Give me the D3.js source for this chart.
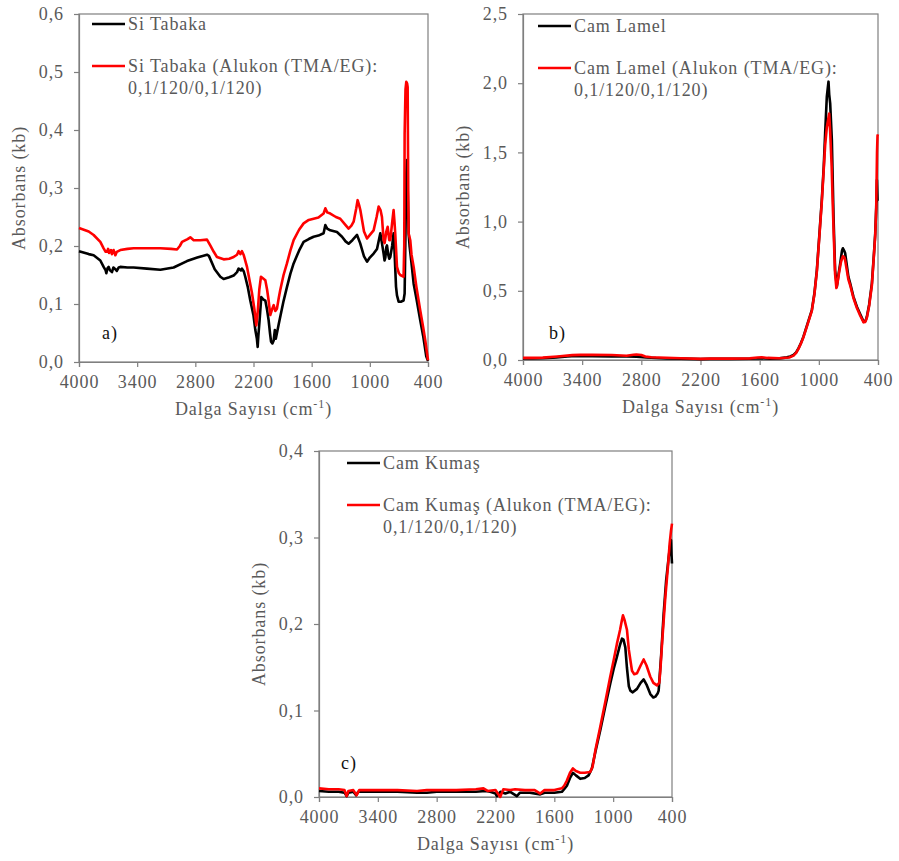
<!DOCTYPE html>
<html>
<head>
<meta charset="utf-8">
<script src="https://cdn.jsdelivr.net/npm/d3@7"></script>
<style>
  html, body { margin: 0; padding: 0; background: #fff; }
  svg { display: block; }
  svg text { font-family: "Liberation Serif", "Tinos", "Times New Roman", "DejaVu Serif", "Noto Serif", serif; letter-spacing: 0.9px; }
</style>
</head>
<body>
<svg id="chart" width="899" height="861"></svg>
<script>
// ---------- shared axis ticks ----------
const waveTicks = [4000, 3400, 2800, 2200, 1600, 1000, 400];

// ---------- a) Si wafer ----------
const siBareWave = [4000,3900,3849,3780,3746,3725,3718,3705,3694,3680,3660,3645,3625,3610,3590,3574,3500,3437,3300,3161,3024,2886,2780,2680,2660,2600,2542,2508,2450,2405,2370,2354,2330,2319,2300,2285,2260,2233,2200,2181,2165,2157,2150,2137,2120,2100,2078,2060,2044,2030,2019,2005,1992,1980,1970,1958,1940,1924,1890,1855,1820,1786,1730,1683,1630,1580,1530,1477,1459,1440,1408,1339,1287,1250,1219,1180,1132,1100,1060,1029,1000,961,926,892,875,858,848,840,830,823,810,800,789,770,755,745,730,720,703,680,652,641,630,624,617,610,600,590,570,548,520,480,450,418,400];
const siBareAbs = [0.191,0.186,0.184,0.175,0.164,0.158,0.153,0.162,0.164,0.158,0.155,0.163,0.160,0.157,0.163,0.164,0.163,0.163,0.161,0.159,0.163,0.174,0.180,0.185,0.183,0.160,0.147,0.143,0.146,0.149,0.155,0.161,0.158,0.161,0.156,0.147,0.130,0.106,0.080,0.055,0.040,0.026,0.045,0.072,0.112,0.108,0.106,0.090,0.072,0.050,0.035,0.032,0.037,0.055,0.040,0.050,0.065,0.078,0.105,0.129,0.152,0.170,0.192,0.207,0.212,0.216,0.218,0.222,0.236,0.230,0.227,0.224,0.216,0.208,0.204,0.210,0.219,0.205,0.182,0.173,0.180,0.187,0.195,0.222,0.205,0.187,0.175,0.180,0.198,0.201,0.185,0.178,0.181,0.200,0.222,0.190,0.130,0.115,0.104,0.104,0.106,0.118,0.250,0.325,0.348,0.300,0.222,0.200,0.170,0.135,0.110,0.072,0.045,0.010,0.002];

const siCoatedWave = [4000,3900,3849,3780,3746,3725,3711,3700,3690,3670,3660,3643,3625,3610,3574,3500,3437,3300,3161,3050,2989,2960,2937,2880,2852,2817,2750,2680,2646,2610,2577,2508,2450,2405,2370,2354,2335,2319,2300,2267,2240,2215,2190,2171,2160,2155,2140,2123,2100,2078,2060,2044,2027,2010,1992,1975,1958,1940,1924,1890,1855,1820,1786,1730,1683,1630,1580,1530,1477,1459,1440,1408,1350,1305,1250,1219,1190,1167,1140,1126,1110,1098,1060,1029,995,961,930,909,890,875,858,848,840,830,816,800,789,770,755,745,738,720,700,686,665,652,645,641,632,624,615,610,604,600,583,570,548,520,480,450,428,410,400];
const siCoatedAbs = [0.231,0.225,0.219,0.207,0.196,0.190,0.190,0.195,0.188,0.193,0.186,0.193,0.184,0.190,0.193,0.195,0.196,0.196,0.196,0.195,0.194,0.200,0.207,0.212,0.215,0.210,0.210,0.211,0.201,0.190,0.181,0.177,0.178,0.181,0.185,0.191,0.186,0.191,0.184,0.164,0.140,0.118,0.090,0.063,0.080,0.090,0.125,0.147,0.144,0.141,0.125,0.106,0.081,0.090,0.098,0.088,0.092,0.110,0.124,0.150,0.170,0.192,0.210,0.228,0.239,0.245,0.247,0.249,0.256,0.265,0.258,0.256,0.250,0.247,0.236,0.230,0.235,0.242,0.265,0.279,0.270,0.262,0.225,0.213,0.220,0.227,0.250,0.268,0.262,0.250,0.210,0.205,0.213,0.225,0.233,0.210,0.210,0.240,0.262,0.240,0.222,0.164,0.153,0.150,0.148,0.147,0.200,0.394,0.470,0.483,0.480,0.474,0.300,0.222,0.210,0.185,0.164,0.130,0.089,0.060,0.037,0.015,0.003];

// ---------- b) glass cover slip ----------
const lamelBareWave = [4000,3900,3800,3700,3661,3550,3458,3300,3100,2950,2849,2750,2650,2544,2400,2200,2100,1900,1700,1580,1500,1400,1325,1290,1257,1230,1207,1180,1156,1120,1071,1045,1020,995,970,950,936,919,910,902,895,885,868,851,835,817,800,783,765,756,740,733,700,682,650,614,580,546,525,513,490,462,440,428,418,411,405,400];
const lamelBareAbs = [0.012,0.012,0.013,0.017,0.019,0.026,0.029,0.028,0.026,0.025,0.024,0.018,0.014,0.012,0.010,0.006,0.008,0.008,0.009,0.013,0.010,0.012,0.019,0.025,0.036,0.055,0.084,0.125,0.169,0.250,0.361,0.480,0.650,0.900,1.156,1.400,1.638,1.903,1.960,2.011,1.920,1.855,1.590,1.036,0.650,0.530,0.620,0.700,0.790,0.807,0.785,0.771,0.600,0.554,0.460,0.385,0.330,0.277,0.285,0.313,0.400,0.554,0.780,0.915,1.100,1.300,1.150,1.150];

const lamelCoatedWave = [4000,3900,3800,3650,3500,3420,3300,3100,2950,2880,2850,2800,2760,2700,2550,2400,2200,2100,1900,1700,1620,1580,1520,1400,1300,1257,1230,1207,1180,1156,1120,1071,1045,1020,995,970,950,936,919,905,895,885,870,860,851,835,822,810,795,775,756,740,733,700,682,650,614,580,546,530,513,490,462,440,428,418,410,405,400];
const lamelCoatedAbs = [0.015,0.015,0.017,0.025,0.035,0.037,0.037,0.036,0.031,0.038,0.040,0.036,0.025,0.020,0.016,0.013,0.008,0.010,0.010,0.012,0.018,0.020,0.015,0.013,0.018,0.032,0.052,0.080,0.122,0.165,0.245,0.355,0.475,0.640,0.890,1.140,1.380,1.550,1.680,1.740,1.780,1.650,1.400,1.150,0.950,0.620,0.520,0.560,0.630,0.710,0.750,0.740,0.720,0.580,0.540,0.450,0.375,0.320,0.272,0.275,0.305,0.390,0.540,0.770,0.900,1.100,1.500,1.620,1.630];

// ---------- c) glass fabric ----------
const kumasBareWave = [4000,3900,3800,3740,3718,3700,3650,3622,3600,3400,3200,3000,2900,2800,2600,2400,2300,2254,2200,2186,2150,2100,2050,1982,1950,1850,1744,1700,1600,1523,1500,1472,1440,1411,1380,1336,1290,1251,1217,1180,1132,1080,1030,995,962,930,910,895,876,860,840,825,800,757,720,689,660,621,590,570,545,536,510,485,460,434,420,410,405,400];
const kumasBareAbs = [0.007,0.006,0.006,0.005,0.001,0.005,0.006,0.002,0.006,0.006,0.006,0.005,0.005,0.006,0.006,0.006,0.007,0.006,0.004,0.001,0.006,0.004,0.006,0.001,0.005,0.005,0.003,0.005,0.005,0.006,0.009,0.013,0.022,0.028,0.025,0.021,0.022,0.025,0.033,0.053,0.077,0.105,0.131,0.148,0.162,0.176,0.183,0.182,0.173,0.150,0.128,0.123,0.121,0.125,0.132,0.136,0.130,0.119,0.115,0.116,0.120,0.123,0.165,0.212,0.250,0.277,0.290,0.297,0.280,0.270];

const kumasCoatedWave = [4000,3900,3800,3740,3718,3700,3650,3616,3590,3400,3200,3000,2900,2800,2600,2400,2323,2280,2200,2152,2120,2050,2000,1900,1800,1744,1700,1600,1523,1500,1472,1440,1411,1380,1336,1290,1234,1210,1180,1132,1080,1030,995,962,930,910,900,885,859,840,808,785,757,720,689,660,621,590,553,530,519,500,468,440,424,410,400];
const kumasCoatedAbs = [0.010,0.009,0.009,0.008,0.001,0.007,0.008,0.002,0.008,0.008,0.008,0.007,0.008,0.008,0.008,0.009,0.010,0.007,0.008,0.000,0.009,0.008,0.009,0.008,0.008,0.004,0.008,0.008,0.010,0.013,0.019,0.028,0.033,0.030,0.028,0.028,0.029,0.035,0.055,0.081,0.110,0.139,0.158,0.177,0.193,0.205,0.210,0.205,0.193,0.170,0.146,0.142,0.143,0.152,0.159,0.152,0.139,0.132,0.129,0.132,0.146,0.180,0.231,0.268,0.293,0.308,0.316];

// ---------- panel definitions ----------
const panels = [
  {
    left: 79, right: 428, top: 14, bottom: 362,
    yMax: 0.6, yStep: 0.1, tag: "a)", tagX: 102, tagY: 339,
    legendX: 92, legendY: 24,
    names: ["Si Tabaka", "Si Tabaka (Alukon (TMA/EG):"],
    series: [
      { wave: siBareWave, abs: siBareAbs, color: "#000000" },
      { wave: siCoatedWave, abs: siCoatedAbs, color: "#ff0000" }
    ]
  },
  {
    left: 523, right: 878, top: 14, bottom: 360,
    yMax: 2.5, yStep: 0.5, tag: "b)", tagX: 549, tagY: 339,
    legendX: 538, legendY: 26,
    names: ["Cam Lamel", "Cam Lamel (Alukon (TMA/EG):"],
    series: [
      { wave: lamelBareWave, abs: lamelBareAbs, color: "#000000" },
      { wave: lamelCoatedWave, abs: lamelCoatedAbs, color: "#ff0000" }
    ]
  },
  {
    left: 319, right: 672, top: 451, bottom: 797,
    yMax: 0.4, yStep: 0.1, tag: "c)", tagX: 341, tagY: 769,
    legendX: 347, legendY: 463,
    names: ["Cam Kumaş", "Cam Kumaş (Alukon (TMA/EG):"],
    series: [
      { wave: kumasBareWave, abs: kumasBareAbs, color: "#000000" },
      { wave: kumasCoatedWave, abs: kumasCoatedAbs, color: "#ff0000" }
    ]
  }
];
const secondLine = "0,1/120/0,1/120)";

const FONT = "'Liberation Serif', 'Tinos', 'Times New Roman', 'DejaVu Serif', 'Noto Serif', serif";
const svg = d3.select("#chart");
const textColor = "#595959";
const frameColor = "#7f7f7f";
const fmtY = v => d3.format(".1f")(v).replace(".", ",");

panels.forEach(p => {
  const x = d3.scaleLinear().domain([4000, 400]).range([p.left, p.right]);
  const y = d3.scaleLinear().domain([0, p.yMax]).range([p.bottom, p.top]);
  const g = svg.append("g").attr("font-family", FONT);

  // frame
  g.append("rect")
    .attr("x", p.left).attr("y", p.top)
    .attr("width", p.right - p.left).attr("height", p.bottom - p.top)
    .attr("fill", "none").attr("stroke", frameColor).attr("stroke-width", 1.2);

  // x axis
  const xAxis = g.append("g")
    .attr("transform", `translate(0,${p.bottom})`)
    .call(d3.axisBottom(x).tickValues(waveTicks).tickFormat(d3.format("d")).tickSize(5).tickPadding(8));
  // y axis
  const yTicks = d3.range(0, p.yMax + p.yStep / 2, p.yStep);
  const yAxis = g.append("g")
    .attr("transform", `translate(${p.left},0)`)
    .call(d3.axisLeft(y).tickValues(yTicks).tickFormat(fmtY).tickSize(5).tickPadding(10));

  [xAxis, yAxis].forEach(ax => {
    ax.attr("font-family", FONT).attr("font-size", 18);
    ax.select(".domain").attr("stroke", frameColor).attr("stroke-width", 1.2);
    ax.selectAll(".tick line").attr("stroke", frameColor).attr("stroke-width", 1.2);
    ax.selectAll(".tick text").attr("fill", textColor);
  });

  // axis titles
  const xt = g.append("text")
    .attr("x", (p.left + p.right) / 2).attr("y", p.bottom + 53)
    .attr("text-anchor", "middle").attr("fill", textColor)
    .attr("font-size", 18);
  xt.append("tspan").text("Dalga Sayısı (cm");
  xt.append("tspan").attr("dy", -7).attr("font-size", 12).text("-1");
  xt.append("tspan").attr("dy", 7).text(")");

  g.append("text")
    .attr("transform", `translate(${p.left - 54},${(p.top + p.bottom) / 2}) rotate(-90)`)
    .attr("text-anchor", "middle").attr("fill", textColor)
    .attr("font-size", 18)
    .text("Absorbans (kb)");

  // spectra
  const line = d3.line().x(d => x(d[0])).y(d => y(d[1]));
  p.series.forEach(s => {
    g.append("path")
      .datum(s.wave.map((w, i) => [w, s.abs[i]]))
      .attr("fill", "none")
      .attr("stroke", s.color)
      .attr("stroke-width", 2.6)
      .attr("stroke-linejoin", "round")
      .attr("d", line);
  });

  // legend
  const rows = [p.legendY, p.legendY + 42];
  p.series.forEach((s, i) => {
    g.append("line")
      .attr("x1", p.legendX).attr("x2", p.legendX + 33)
      .attr("y1", rows[i]).attr("y2", rows[i])
      .attr("stroke", s.color).attr("stroke-width", 2.6);
    g.append("text")
      .attr("x", p.legendX + 36).attr("y", rows[i] + 6)
      .attr("fill", textColor).attr("font-size", 18)
      .text(p.names[i]);
  });
  g.append("text")
    .attr("x", p.legendX + 36).attr("y", rows[1] + 28)
    .attr("fill", textColor).attr("font-size", 18)
    .text(secondLine);

  // panel tag
  g.append("text")
    .attr("x", p.tagX).attr("y", p.tagY)
    .attr("fill", "#111").attr("font-size", 18)
    .text(p.tag);
});
</script>
</body>
</html>
